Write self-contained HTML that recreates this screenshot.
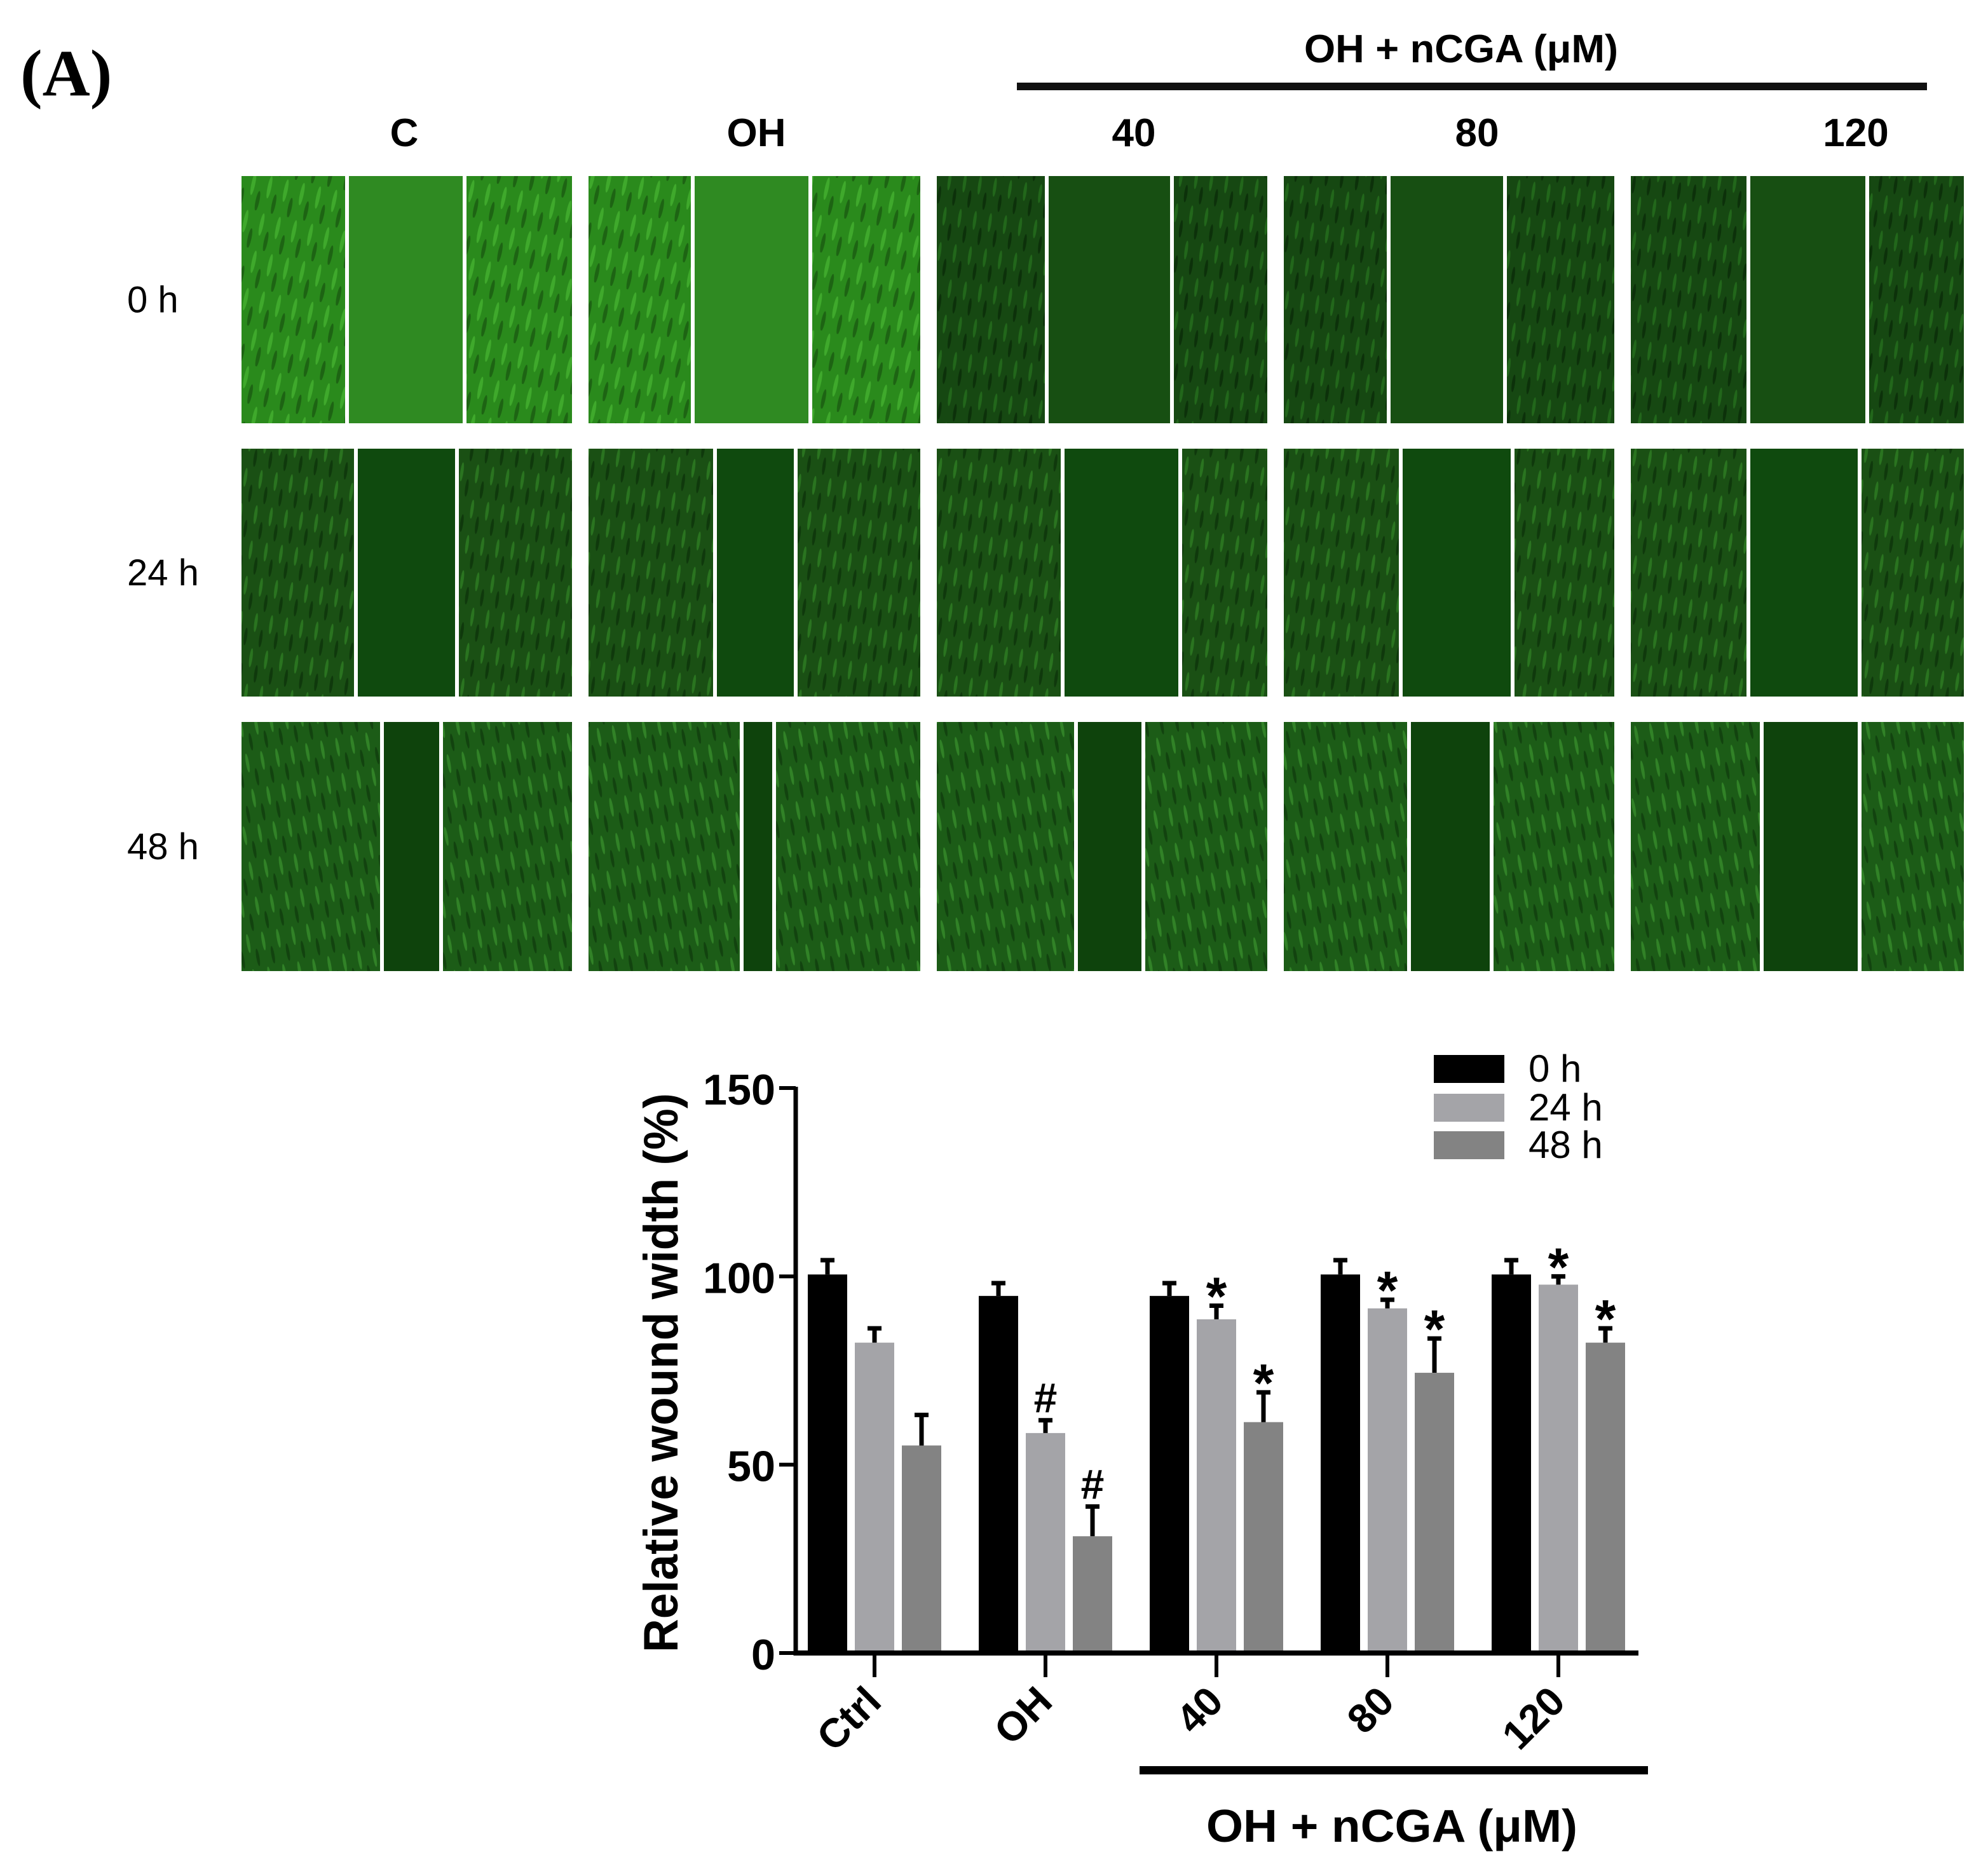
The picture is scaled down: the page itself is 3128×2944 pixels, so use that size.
<!DOCTYPE html>
<html><head><meta charset="utf-8"><style>
html,body{margin:0;padding:0;background:#fff}
svg{display:block}
text{font-family:"Liberation Sans",Arial,sans-serif}
</style></head><body>
<svg id="fig" width="3128" height="2944" viewBox="0 0 3128 2944" xmlns="http://www.w3.org/2000/svg">
<defs>
<pattern id="cellsBright" width="26" height="60" patternUnits="userSpaceOnUse" patternTransform="rotate(12)">
<rect width="26" height="60" fill="#2a8a1c"/>
<ellipse cx="8" cy="20" rx="3" ry="18" fill="#45b030" opacity=".8"/>
<ellipse cx="20" cy="45" rx="3" ry="16" fill="#1a5a10" opacity=".8"/>
</pattern>
<pattern id="cellsDark" width="24" height="56" patternUnits="userSpaceOnUse" patternTransform="rotate(-10)">
<rect width="24" height="56" fill="#1c5c17"/>
<ellipse cx="7" cy="18" rx="2.5" ry="15" fill="#35892a" opacity=".85"/>
<ellipse cx="18" cy="42" rx="2.5" ry="14" fill="#0f3d0c" opacity=".8"/>
</pattern>
<pattern id="cellsMid" width="24" height="56" patternUnits="userSpaceOnUse" patternTransform="rotate(8)">
<rect width="24" height="56" fill="#1a5014"/>
<ellipse cx="7" cy="18" rx="2.5" ry="15" fill="#2d7a22" opacity=".85"/>
<ellipse cx="18" cy="42" rx="2.5" ry="14" fill="#0c330a" opacity=".8"/>
</pattern>
<pattern id="cellsDeep" width="24" height="56" patternUnits="userSpaceOnUse" patternTransform="rotate(8)">
<rect width="24" height="56" fill="#164812"/>
<ellipse cx="7" cy="18" rx="2.5" ry="15" fill="#246c1c" opacity=".85"/>
<ellipse cx="18" cy="42" rx="2.5" ry="14" fill="#0a2c08" opacity=".8"/>
</pattern>
</defs>

<text x="32" y="150" font-weight="bold" font-size="104" style="font-family:'Liberation Serif',serif">(A)</text>

<text x="2299" y="98" text-anchor="middle" font-weight="bold" font-size="62" textLength="494" lengthAdjust="spacingAndGlyphs">OH + nCGA (μM)</text>
<rect x="1600" y="130" width="1432" height="12" fill="#111"/>

<g id="micro"></g>
<g id="chart"></g>
</svg>
<script>
const NS='http://www.w3.org/2000/svg';
function mk(tag,attrs,parent,txt){const e=document.createElementNS(NS,tag);for(const k in attrs)e.setAttribute(k,attrs[k]);if(txt!==undefined)e.textContent=txt;parent.appendChild(e);return e;}

// ---- Micrograph grid ----
const colLabels=['C','OH','40','80','120'];
const colLabelX=[636,1190,1784,2324,2920];
const rowLabels=['0 h','24 h','48 h'];
const panelX=[[380,900],[926,1448],[1474,1994],[2020,2540],[2566,3090]];
const rowY=[[277,666],[706,1096],[1136,1528]];
const gaps=[
 [[546,731],[1090,1275],[1647,1844],[2185,2368],[2751,2938]],
 [[560,719],[1125,1252],[1672,1857],[2204,2380],[2751,2926]],
 [[601,694],[1167,1218],[1693,1799],[2217,2347],[2772,2926]]
];
const micro=document.getElementById('micro');
colLabels.forEach((c,i)=>{
  const t=mk('text',{x:colLabelX[i],y:230,'text-anchor':'middle','font-weight':'bold','font-size':62},micro,c);
  
  
});
rowLabels.forEach((r,j)=>{
  const t=mk('text',{x:200,y:(rowY[j][0]+rowY[j][1])/2+20,'text-anchor':'start','font-size':58},micro,r);
  
  
});
const gapFill=['#2f8a22','#0f4a0e','#0e430c'];
rowY.forEach((ry,j)=>{
  panelX.forEach((px,i)=>{
    const g=mk('g',{},micro);
    
    
    const fill=j===0?(i===0||i===1?'url(#cellsBright)':'url(#cellsDeep)'):(j===1?'url(#cellsMid)':'url(#cellsDark)');
    mk('rect',{x:px[0],y:ry[0],width:px[1]-px[0],height:ry[1]-ry[0],fill:fill},g);
    const gp=gaps[j][i];
    let gf=gapFill[j]; if(j===0&&i>1) gf='#174f12';
    mk('rect',{x:gp[0],y:ry[0],width:gp[1]-gp[0],height:ry[1]-ry[0],fill:gf},g);
    mk('rect',{x:gp[0]-3,y:ry[0],width:6,height:ry[1]-ry[0],fill:'#fff'},g);
    mk('rect',{x:gp[1]-3,y:ry[0],width:6,height:ry[1]-ry[0],fill:'#fff'},g);
  });
});
</script>
<script>
// ---- Bar chart data ----
const categories=['Ctrl','OH','40','80','120'];
const seriesNames=['0 h','24 h','48 h'];
const values0h=[100.5,94.8,94.8,100.5,100.5];
const values24h=[82.4,58.4,88.6,91.5,97.8];
const values48h=[55.1,31.0,61.3,74.4,82.4];
const err0h=[3.8,3.4,3.4,3.8,3.8];
const err24h=[3.8,3.4,3.6,2.3,2.2];
const err48h=[8.1,7.9,7.9,9.1,3.8];
const marks24h=['','#','*','*','*'];
const marks48h=['','#','*','*','*'];
const yTicks=[0,50,100,150];

(function(){
const chart=document.getElementById('chart');
const y0=2601,y150=1712,xAxis=1252,xEnd=2578;
const yScale=v=>y0-(v/150)*(y0-y150);
const groupX=i=>1376+i*269;
const barW=62,offs=[-74,0,74];
const colors=['#000000','#a4a4a8','#838383'];
const vals=[values0h,values24h,values48h],errs=[err0h,err24h,err48h],marks=[null,marks24h,marks48h];

const ya=mk('line',{x1:xAxis,y1:y150-2,x2:xAxis,y2:y0+4,stroke:'#000','stroke-width':7},chart);


yTicks.forEach(t=>{
  const tk=mk('line',{x1:xAxis-26,y1:yScale(t),x2:xAxis,y2:yScale(t),stroke:'#000','stroke-width':6},chart);
  
  
  const lb=mk('text',{x:xAxis-32,y:yScale(t)+26,'text-anchor':'end','font-weight':'bold','font-size':68,textLength:String(t).length*38,lengthAdjust:'spacingAndGlyphs'},chart,String(t));
  
  
});
const yt=mk('text',{x:0,y:0,'text-anchor':'middle','font-weight':'bold','font-size':76,textLength:880,lengthAdjust:'spacingAndGlyphs',transform:'translate(1066,2160) rotate(-90)'},chart,'Relative wound width (%)');



categories.forEach((c,i)=>{
  const gx=groupX(i);
  for(let s=0;s<3;s++){
    const v=vals[s][i],e=errs[s][i];
    const cx=gx+offs[s];
    const top=yScale(v);
    const b=mk('rect',{x:cx-barW/2,y:top,width:barW,height:y0-top,fill:colors[s]},chart);
    
    
    const et=yScale(v+e);
    const eb=mk('path',{d:`M${cx} ${top} V${et} M${cx-11} ${et} H${cx+11}`,stroke:'#000','stroke-width':7,fill:'none'},chart);
    
    
    if(marks[s]&&marks[s][i]){
      const m=marks[s][i];
      const mt=mk('text',{x:cx,y:m==='*'?et+14:et-12,'text-anchor':'middle','font-weight':'bold','font-size':m==='*'?84:66},chart,m);
      
      
    }
  }
  const tk=mk('line',{x1:gx,y1:y0,x2:gx,y2:y0+38,stroke:'#000','stroke-width':6},chart);
  
  
  const lb=mk('text',{x:0,y:0,'text-anchor':'end','font-weight':'bold','font-size':64,transform:`translate(${gx+14},${y0+80}) rotate(-45)`},chart,c);
  
  
});
const xa=mk('line',{x1:xAxis-3,y1:y0,x2:xEnd,y2:y0,stroke:'#000','stroke-width':8},chart);



const gl=mk('rect',{x:1793,y:2779,width:800,height:13,fill:'#000'},chart);


const gt=mk('text',{x:2190,y:2898,'text-anchor':'middle','font-weight':'bold','font-size':72,textLength:584,lengthAdjust:'spacingAndGlyphs'},chart,'OH + nCGA (μM)');



const legY=[1660,1721,1780];
seriesNames.forEach((n,s)=>{
  const r=mk('rect',{x:2256,y:legY[s],width:111,height:44,fill:colors[s]},chart);
  
  
  const t=mk('text',{x:2405,y:legY[s]+42,'font-size':60},chart,n);
  
  
});
})();
</script>
</body></html>
